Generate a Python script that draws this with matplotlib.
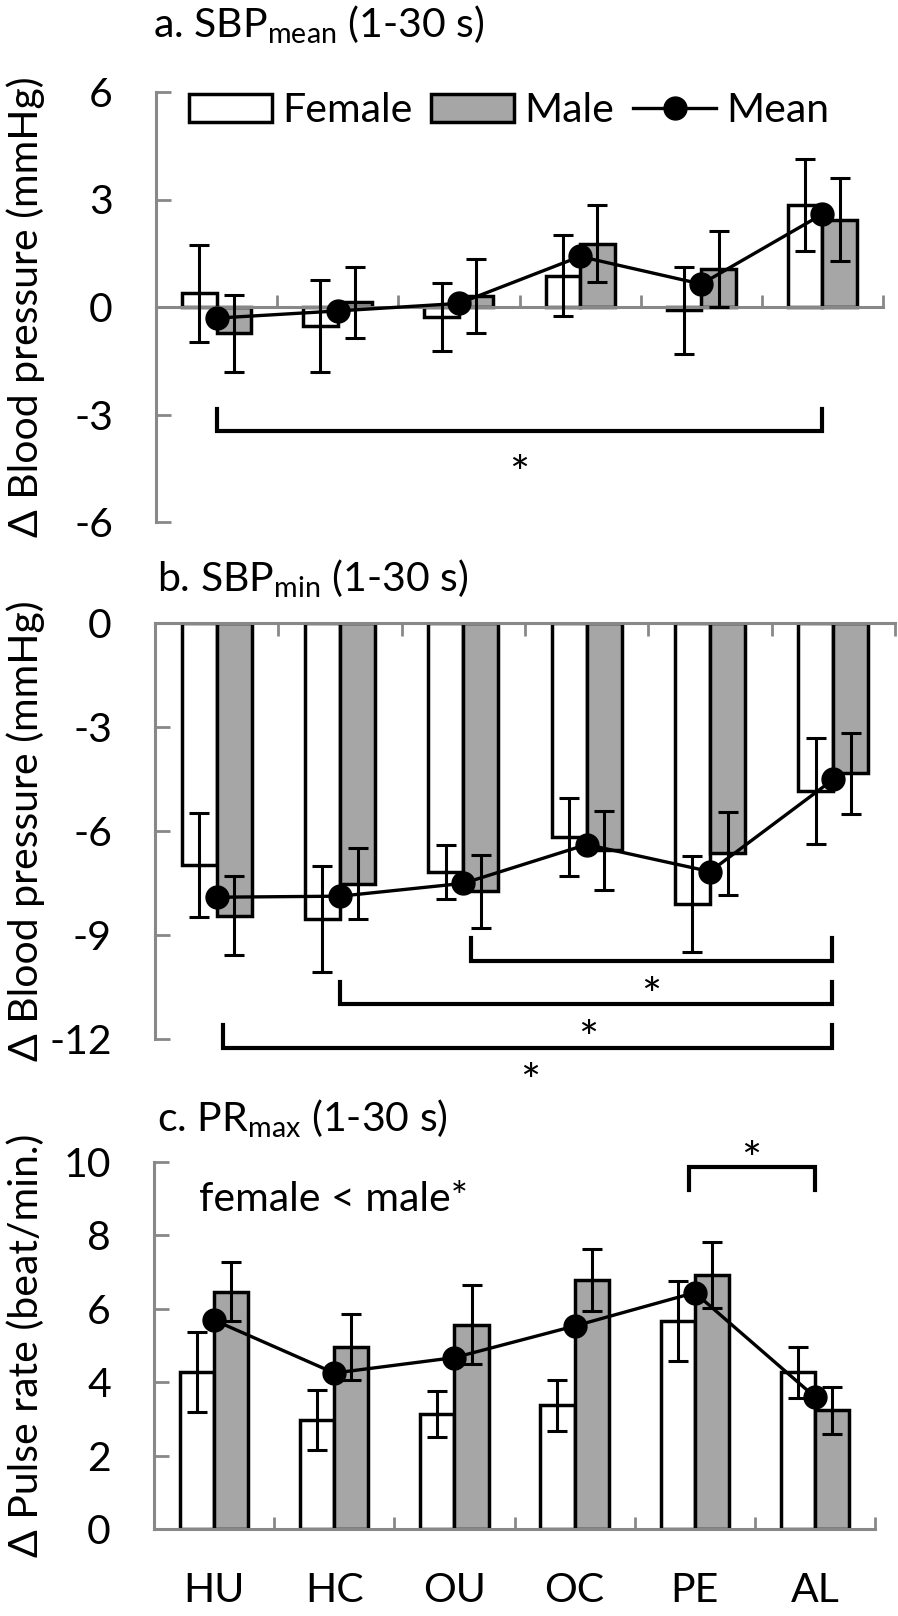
import numpy as np
import matplotlib.pyplot as plt
from matplotlib.lines import Line2D
from matplotlib.patches import Patch

plt.rcParams['font.family'] = ['Lato', 'DejaVu Sans']
plt.rcParams['mathtext.fontset'] = 'custom'
plt.rcParams['mathtext.rm'] = 'Lato'
plt.rcParams['mathtext.it'] = 'Lato:italic'
plt.rcParams['mathtext.bf'] = 'Lato:bold'
plt.rcParams['axes.unicode_minus'] = False

groups = ['HU', 'HC', 'OU', 'OC', 'PE', 'AL']

# a. SBPmean
a_female = [0.38, -0.53, -0.28, 0.87, -0.09, 2.85]
a_female_err = [1.35, 1.27, 0.95, 1.13, 1.21, 1.29]
a_male = [-0.73, 0.13, 0.31, 1.77, 1.07, 2.44]
a_male_err = [1.07, 1.00, 1.03, 1.07, 1.06, 1.17]
a_mean = [-0.31, -0.11, 0.10, 1.41, 0.64, 2.59]

# b. SBPmin
b_female = [-6.99, -8.55, -7.18, -6.17, -8.11, -4.85]
b_female_err = [1.50, 1.53, 0.77, 1.12, 1.39, 1.52]
b_male = [-8.44, -7.52, -7.74, -6.56, -6.64, -4.33]
b_male_err = [1.15, 1.03, 1.05, 1.15, 1.20, 1.17]
b_mean = [-7.91, -7.88, -7.51, -6.39, -7.17, -4.51]

# c. PRmax
c_female = [4.28, 2.98, 3.13, 3.37, 5.67, 4.27]
c_female_err = [1.10, 0.82, 0.63, 0.70, 1.10, 0.69]
c_male = [6.47, 4.97, 5.57, 6.78, 6.93, 3.23]
c_male_err = [0.80, 0.90, 1.07, 0.85, 0.90, 0.64]
c_mean = [5.69, 4.25, 4.67, 5.53, 6.44, 3.60]

FS = 29.5
GRAY = '#888888'
BAR_GRAY = '#a6a6a6'
W = 0.285
W_PX, H_PX = 898, 1616


def box(x0, y0, x1, y1):
    # pixel box -> figure fraction
    return [x0 / W_PX, 1 - y1 / H_PX, (x1 - x0) / W_PX, (y1 - y0) / H_PX]


def draw(ax, female, female_err, male, male_err, mean):
    x = np.arange(len(groups)) + 0.5
    ax.bar(x - W / 2, female, W, color='white', edgecolor='black', linewidth=2.5, zorder=2)
    ax.bar(x + W / 2, male, W, color=BAR_GRAY, edgecolor='black', linewidth=2.5, zorder=2)
    ax.errorbar(x - W / 2, female, yerr=female_err, fmt='none', ecolor='black',
                elinewidth=2.2, capsize=7, capthick=2.2, zorder=3)
    ax.errorbar(x + W / 2, male, yerr=male_err, fmt='none', ecolor='black',
                elinewidth=2.2, capsize=7, capthick=2.2, zorder=3)
    ax.plot(x, mean, color='black', lw=2.4, marker='o', ms=16.5, zorder=4)
    ax.set_xlim(0, len(groups))
    ax.set_xticks(x)
    ax.set_xticklabels([])
    ax.set_xticks(np.arange(len(groups) + 1), minor=True)
    ax.tick_params(axis='x', which='major', length=0)
    ax.tick_params(axis='x', which='minor', direction='in', length=9, width=2, color=GRAY)
    ax.tick_params(axis='y', direction='in', length=10.5, width=2, color=GRAY,
                   pad=31, labelsize=FS)
    ax.spines['right'].set_visible(False)
    for s in ax.spines.values():
        s.set_color(GRAY)
        s.set_linewidth(2.2)


def bracket(ax, x1, x2, y_tip, y_bar, star_x, star_y):
    ax.plot([x1, x1, x2, x2], [y_tip, y_bar, y_bar, y_tip], color='black',
            lw=3.0, clip_on=False, zorder=5, solid_joinstyle='miter')
    ax.annotate('*', (star_x, star_y), xytext=(0, -10), textcoords='offset points',
                ha='center', va='center', fontsize=34, annotation_clip=False)


fig = plt.figure(figsize=(W_PX / 100, H_PX / 100), dpi=100)

# panel a
ax_a = fig.add_axes(box(156, 92, 883, 522))
draw(ax_a, a_female, a_female_err, a_male, a_male_err, a_mean)
ax_a.set_ylim(-6, 6)
ax_a.set_yticks([-6, -3, 0, 3, 6])
ax_a.spines['top'].set_visible(False)
ax_a.spines['bottom'].set_position(('data', 0))
bracket(ax_a, 0.5, 5.5, -2.85, -3.45, 3.0, -4.33)

handles = [Patch(facecolor='white', edgecolor='black', lw=2.5),
           Patch(facecolor=BAR_GRAY, edgecolor='black', lw=2.5),
           Line2D([], [], color='black', lw=2.4, marker='o', ms=16.5)]
ax_a.legend(handles, ['Female', 'Male', 'Mean'], ncol=3, loc='center left',
            bbox_to_anchor=(189 / W_PX, 1 - 111 / H_PX), bbox_transform=fig.transFigure,
            frameon=False, borderpad=0, borderaxespad=0, handlelength=2.03,
            handleheight=0.68, handletextpad=0.24, columnspacing=0.46, fontsize=FS)

# panel b
ax_b = fig.add_axes(box(155, 623, 895, 1039))
draw(ax_b, b_female, b_female_err, b_male, b_male_err, b_mean)
ax_b.set_ylim(-12, 0)
ax_b.set_yticks([-12, -9, -6, -3, 0])
ax_b.spines['bottom'].set_visible(False)
ax_b.xaxis.set_ticks_position('top')
bracket(ax_b, 2.56, 5.49, -9.08, -9.74, 4.02, -10.43)
bracket(ax_b, 1.5, 5.49, -10.35, -10.99, 3.51, -11.65)
bracket(ax_b, 0.55, 5.49, -11.6, -12.25, 3.04, -12.9)

# panel c
ax_c = fig.add_axes(box(154, 1162, 875, 1529))
draw(ax_c, c_female, c_female_err, c_male, c_male_err, c_mean)
ax_c.set_ylim(0, 10)
ax_c.set_yticks([0, 2, 4, 6, 8, 10])
ax_c.spines['top'].set_visible(False)
ax_c.set_xticklabels(groups)
ax_c.tick_params(axis='x', which='major', pad=31, labelsize=FS)
bracket(ax_c, 4.45, 5.5, 9.24, 9.86, 4.97, 10.38)
ax_c.text(0.374, 8.66, 'female < male*', ha='left', va='baseline', fontsize=FS)

# titles and y labels
fig.text(153 / W_PX, 1 - 38 / H_PX, 'a. SBP$_{\\mathrm{mean}}$ (1-30 s)', va='baseline', fontsize=FS)
fig.text(157 / W_PX, 1 - 592 / H_PX, 'b. SBP$_{\\mathrm{min}}$ (1-30 s)', va='baseline', fontsize=FS)
fig.text(157 / W_PX, 1 - 1132 / H_PX, 'c. PR$_{\\mathrm{max}}$ (1-30 s)', va='baseline', fontsize=FS)

fig.text(26 / W_PX, 1 - 307 / H_PX, 'Δ Blood pressure (mmHg)', rotation=90,
         ha='center', va='center', fontsize=FS)
fig.text(26 / W_PX, 1 - 831 / H_PX, 'Δ Blood pressure (mmHg)', rotation=90,
         ha='center', va='center', fontsize=FS)
fig.text(26 / W_PX, 1 - 1345 / H_PX, 'Δ Pulse rate (beat/min.)', rotation=90,
         ha='center', va='center', fontsize=FS)

fig.savefig('out.png', dpi=100)
plt.close()
